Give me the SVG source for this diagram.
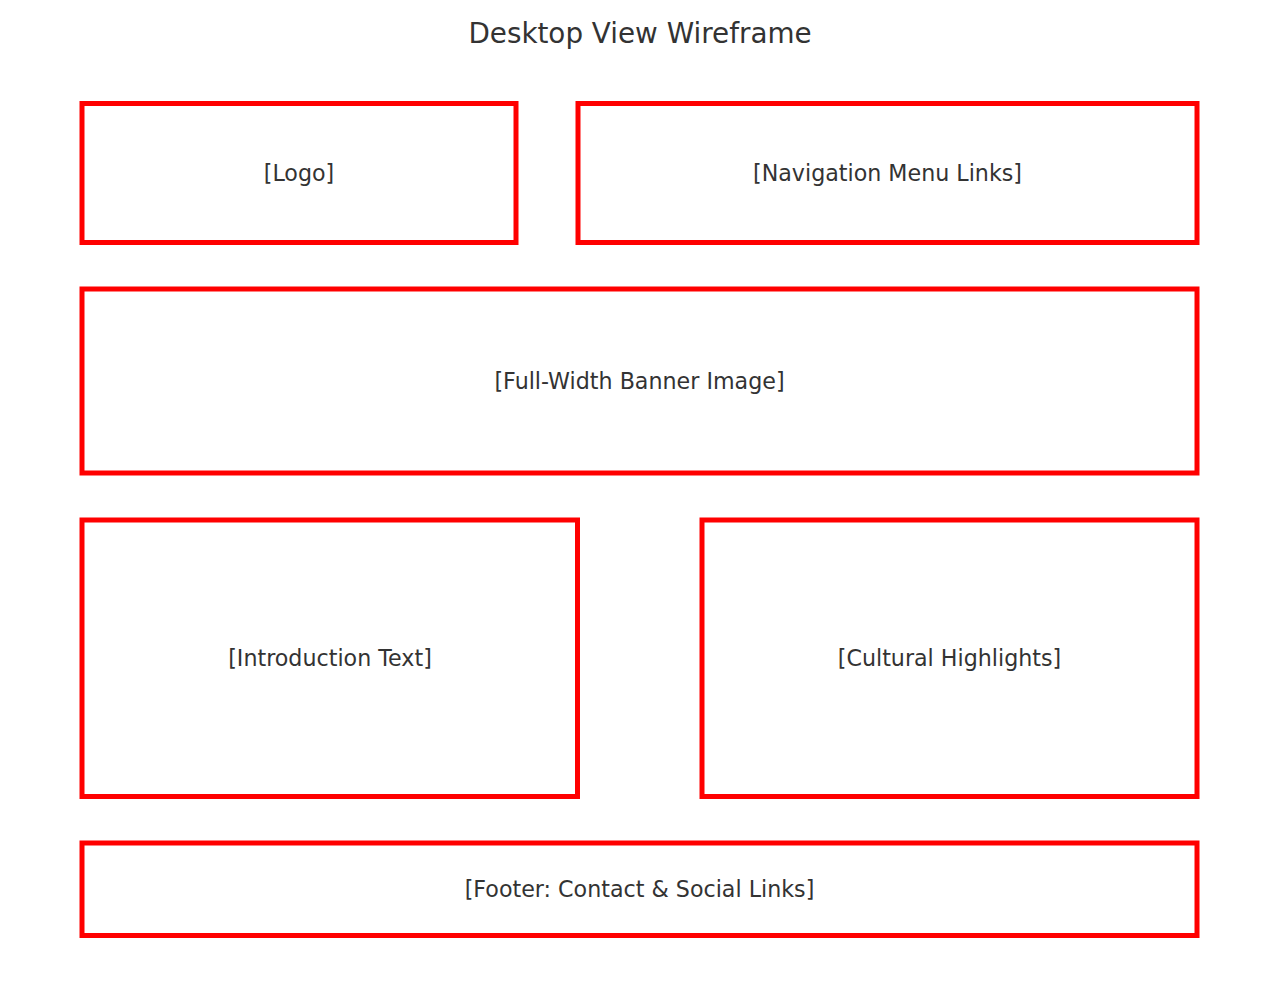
<svg xmlns="http://www.w3.org/2000/svg" width="1280" height="1002" viewBox="0 0 1280 1002">
<style>
.box{fill:none;stroke:#ff0000;stroke-width:5}
.lbl{font-family:"DejaVu Sans",sans-serif;font-size:22.2px;fill:#333333;text-anchor:middle}
.title{font-family:"DejaVu Sans",sans-serif;font-size:27.8px;fill:#333333;text-anchor:middle}
</style>
<rect width="1280" height="1002" fill="#ffffff"/>
<text class="title" x="640" y="42.5">Desktop View Wireframe</text>
<g id="logo"><rect class="box" x="82" y="103.5" width="434" height="139"/><text class="lbl" x="299" y="181">[Logo]</text></g>
<g id="nav"><rect class="box" x="578" y="103.5" width="619" height="139"/><text class="lbl" x="887.5" y="181">[Navigation Menu Links]</text></g>
<g id="banner"><rect class="box" x="82" y="289" width="1115" height="184"/><text class="lbl" x="639.5" y="389">[Full-Width Banner Image]</text></g>
<g id="intro"><rect class="box" x="82" y="520" width="495.5" height="276.5"/><text class="lbl" x="330" y="666">[Introduction Text]</text></g>
<g id="cultural"><rect class="box" x="702" y="520" width="495" height="276.5"/><text class="lbl" x="949.5" y="666">[Cultural Highlights]</text></g>
<g id="footer"><rect class="box" x="82" y="843" width="1115" height="92.5"/><text class="lbl" x="639.5" y="897">[Footer: Contact &amp; Social Links]</text></g>
<g id="connectors"/>
</svg>
